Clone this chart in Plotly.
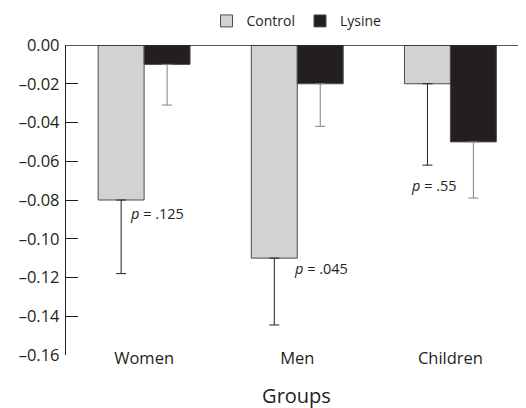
import plotly.graph_objects as go

groups = ["Women", "Men", "Children"]
control = [-0.08, -0.11, -0.02]
lysine = [-0.01, -0.02, -0.05]
control_err = [0.038, 0.0345, 0.042]
lysine_err = [0.021, 0.022, 0.029]
p_labels = ["p = .125", "p = .045", "p = .55"]
p_x = [-0.105, 0.967, 1.73]
p_y = [-0.0872, -0.1156, -0.0723]
tick_vals = [0, -0.02, -0.04, -0.06, -0.08, -0.10, -0.12, -0.14, -0.16]
tick_text = ["0.00", "–0.02", "–0.04", "–0.06", "–0.08", "–0.10", "–0.12", "–0.14", "–0.16"]

FONT = "Open Sans"
TXT = "#231f20"

fig = go.Figure()
fig.add_trace(go.Bar(
    x=groups, y=control, name="Control",
    marker=dict(color="#d1d2d4", line=dict(color="#4d4d4f", width=1)),
    error_y=dict(type="data", symmetric=False, array=[0, 0, 0], arrayminus=control_err,
                 color="#231f20", thickness=1, width=5),
))
fig.add_trace(go.Bar(
    x=groups, y=lysine, name="Lysine",
    marker=dict(color="#231f20", line=dict(color="#4d4d4f", width=1)),
    error_y=dict(type="data", symmetric=False, array=[0, 0, 0], arrayminus=lysine_err,
                 color="#808285", thickness=1, width=5),
))

for t, x, y in zip(p_labels, p_x, p_y):
    fig.add_annotation(x=x, y=y, xref="x", yref="y", xanchor="left", yanchor="middle",
                       text="<i>p</i>" + t[1:], showarrow=False,
                       font=dict(family=FONT, size=14.5, color=TXT))

fig.add_shape(type="line", xref="paper", yref="y", x0=0, x1=1, y0=0, y1=0,
              line=dict(color=TXT, width=1.3))

fig.update_layout(
    width=526, height=408,
    margin=dict(l=58, r=7, t=37, b=61, autoexpand=False),
    paper_bgcolor="white", plot_bgcolor="white",
    barmode="group", bargap=0.4, bargroupgap=0,
    font=dict(family=FONT, size=14, color=TXT),
    legend=dict(orientation="h", x=0.5, xanchor="center", y=1.128, yanchor="top",
                font=dict(family=FONT, size=14, color=TXT),
                itemwidth=30, traceorder="normal"),
    xaxis=dict(range=[-0.51, 2.5], showline=False, ticks="", showgrid=False,
               tickfont=dict(family=FONT, size=16.5, color=TXT), ticklabelstandoff=-9,
               title=dict(text="Groups", font=dict(family=FONT, size=20, color=TXT), standoff=21)),
    yaxis=dict(range=[-0.16, 0], tickvals=tick_vals, ticktext=tick_text,
               showline=True, linecolor=TXT, linewidth=1.3,
               ticks="inside", ticklen=12, tickcolor=TXT, tickwidth=1.3,
               showgrid=False, zeroline=False, ticklabelstandoff=2,
               tickfont=dict(family=FONT, size=16.5, color=TXT)),
)

fig.write_html("out.html")
